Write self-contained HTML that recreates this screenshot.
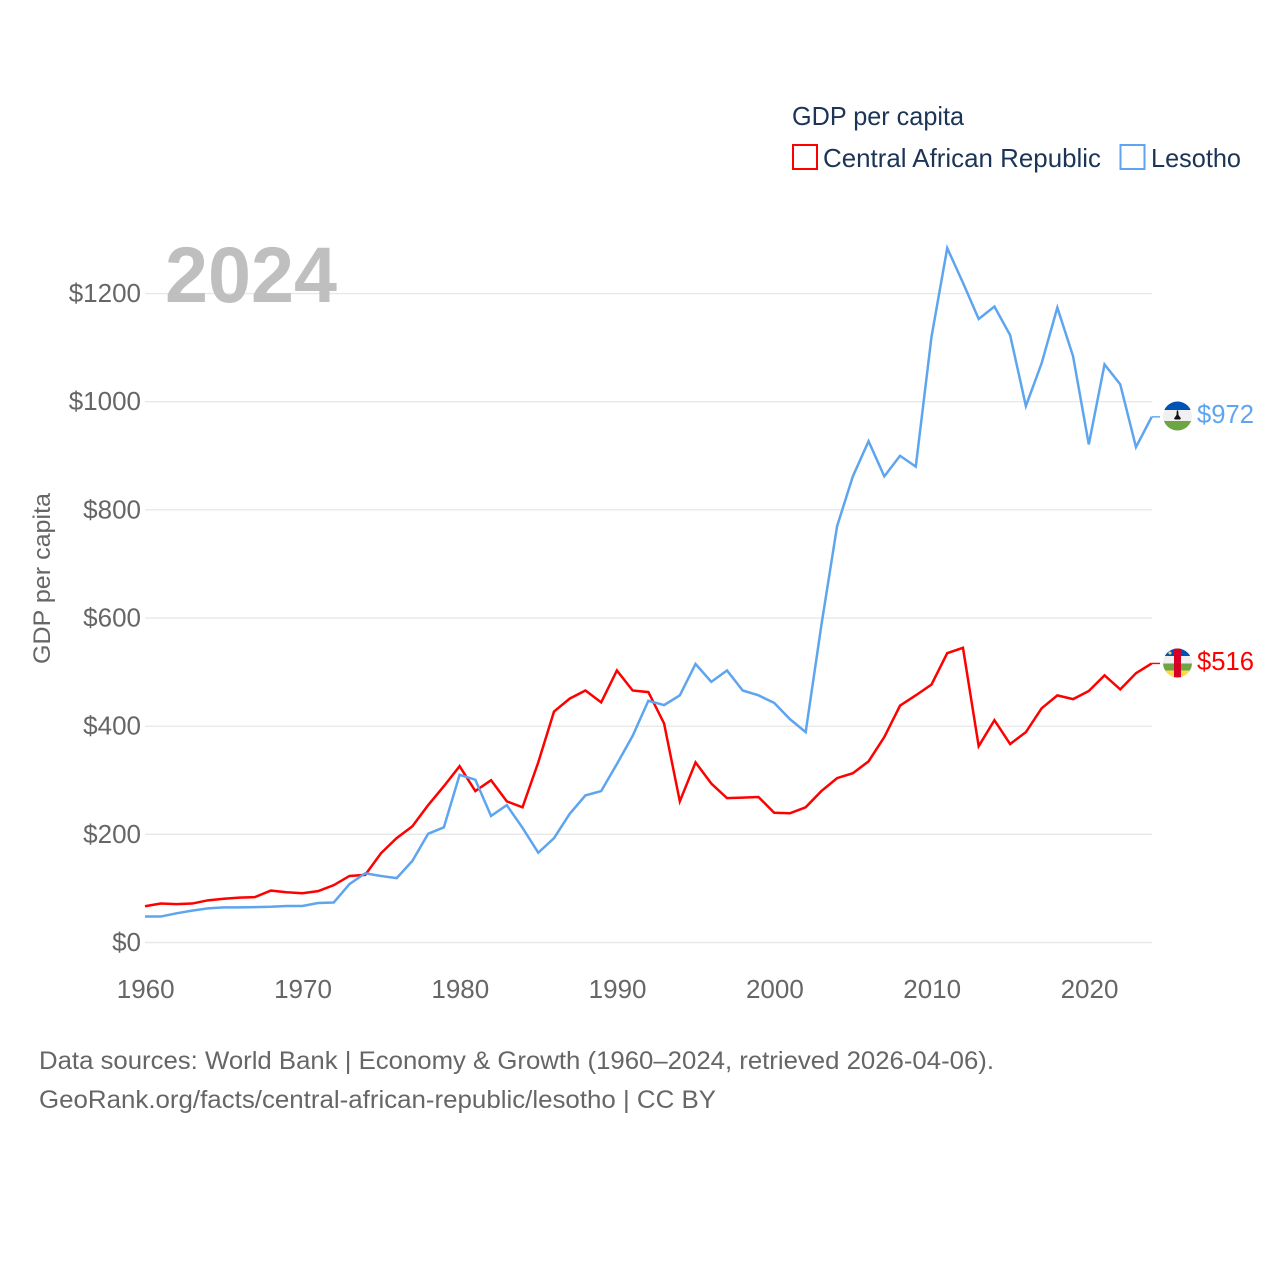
<!DOCTYPE html>
<html>
<head>
<meta charset="utf-8">
<style>
html,body{margin:0;padding:0;background:#fff;width:1280px;height:1280px;overflow:hidden}
svg{display:block;font-family:"Liberation Sans",sans-serif}
</style>
</head>
<body>
<svg id="chart" width="1280" height="1280" viewBox="0 0 1280 1280" xmlns="http://www.w3.org/2000/svg">
  <rect width="1280" height="1280" fill="#fff"/>
  <defs>
    <clipPath id="clip-ls"><circle cx="1177.5" cy="416" r="14.5"/></clipPath>
    <clipPath id="clip-cf"><circle cx="1177.5" cy="663" r="14.5"/></clipPath>
  </defs>
  <g id="grid"></g>
  <text x="165" y="302" font-size="79" font-weight="bold" fill="#bfbfbf" textLength="172" lengthAdjust="spacingAndGlyphs">2024</text>
  <g id="yticks"></g>
  <g id="xticks"></g>
  <text transform="translate(50,664) rotate(-90)" font-size="24.5" fill="#666" textLength="171" lengthAdjust="spacingAndGlyphs">GDP per capita</text>
  <g id="series"></g>

  <g>
    <text x="792" y="125" font-size="26" fill="#1c3557" textLength="172" lengthAdjust="spacingAndGlyphs">GDP per capita</text>
    <g>
      <rect x="793" y="145" width="24" height="24" fill="#fff" stroke="#ff0000" stroke-width="2"/>
      <text x="823" y="167" font-size="26" fill="#1c3557" textLength="278" lengthAdjust="spacingAndGlyphs">Central African Republic</text>
    </g>
    <g>
      <rect x="1120.5" y="145" width="24" height="24" fill="#fff" stroke="#5ea5ef" stroke-width="2"/>
      <text x="1151" y="167" font-size="26" fill="#1c3557" textLength="90" lengthAdjust="spacingAndGlyphs">Lesotho</text>
    </g>
  </g>

  <g clip-path="url(#clip-ls)">
    <rect x="1163" y="401" width="30" height="30" fill="#f0f0f0"/>
    <rect x="1163" y="401" width="30" height="9" fill="#0052b4"/>
    <rect x="1163" y="421" width="30" height="10" fill="#6da544"/>
    <path d="M1176.8 410.5 L1178.2 410.5 L1178.5 415 L1181 418.5 L1180 419.5 L1175 419.5 L1174 418.5 L1176.5 415 Z" fill="#111"/>
  </g>
  <text x="1197" y="423" font-size="26" fill="#5ea5ef" textLength="57" lengthAdjust="spacingAndGlyphs">$972</text>

  <g clip-path="url(#clip-cf)">
    <rect x="1163" y="648" width="30" height="8" fill="#0052b4"/>
    <rect x="1163" y="656" width="30" height="7.5" fill="#f0f0f0"/>
    <rect x="1163" y="663.5" width="30" height="7" fill="#6da544"/>
    <rect x="1163" y="670.5" width="30" height="8" fill="#ffda44"/>
    <rect x="1174" y="648" width="7" height="30" fill="#d80027"/>
    <circle cx="1170" cy="653" r="1.5" fill="#ffda44"/>
  </g>
  <text x="1197" y="670" font-size="26" fill="#ff0000" textLength="57" lengthAdjust="spacingAndGlyphs">$516</text>

  <text x="39" y="1069" font-size="25" fill="#666" textLength="955" lengthAdjust="spacingAndGlyphs">Data sources: World Bank | Economy &amp; Growth (1960–2024, retrieved 2026-04-06).</text>
  <text x="39" y="1108" font-size="25" fill="#666" textLength="677" lengthAdjust="spacingAndGlyphs">GeoRank.org/facts/central-african-republic/lesotho | CC BY</text>
</svg>
<script>
const startYear = 1960;
const xTickYears = [1960, 1970, 1980, 1990, 2000, 2010, 2020];
const yTickValues = [0, 200, 400, 600, 800, 1000, 1200];
const carValues = [67,72,71,72,78,81,83,84,96,93,91,95,106,123,125,165,193,215,254,289,326,280,300,261,250,333,427,451,466,444,503,466,463,405,261,333,294,267,268,269,240,239,250,280,304,313,335,380,438,457,477,535,545,363,411,367,389,433,457,450,465,494,468,498,516];
const lesothoValues = [48,48,54,59,63,65,65,65.5,66,67.5,67.5,73,74,108,128,123,119,151,201,213,310,301,234,254,212,166,193,238,272,280,330,382,447,439,457,515,482,503,466,457,443,413,389,587,770,862,927,862,900,880,1120,1284,1220,1153,1176,1123,992,1071,1174,1084,921,1069,1032,916,972];

const NS = 'http://www.w3.org/2000/svg';
function xScale(year) { return 145 + (year - 1960) * 15.73; }
function yScale(value) { return 942.5 - value * 0.5408; }
function make(tag, attrs, parent) {
  const el = document.createElementNS(NS, tag);
  for (const k in attrs) el.setAttribute(k, attrs[k]);
  parent.appendChild(el);
  return el;
}
const grid = document.getElementById('grid');
const yticks = document.getElementById('yticks');
const xticks = document.getElementById('xticks');
const series = document.getElementById('series');

yTickValues.forEach(function (v) {
  const line = make('line', {x1: 145, x2: 1152, y1: yScale(v), y2: yScale(v), stroke: '#e8e8e8', 'stroke-width': 1.4}, grid);
  
  
  const t = make('text', {x: 141, y: yScale(v) + 8.5, 'text-anchor': 'end', 'font-size': 26, fill: '#666'}, yticks);
  t.textContent = '$' + v;
  
  
});
xTickYears.forEach(function (y) {
  const t = make('text', {x: xScale(y) + 0.7, y: 998, 'text-anchor': 'middle', 'font-size': 26, fill: '#666'}, xticks);
  t.textContent = y;
  
  
});
function drawSeries(values, color, name) {
  const pts = values.map(function (v, i) { return xScale(startYear + i).toFixed(2) + ',' + yScale(v).toFixed(2); });
  const p = make('polyline', {points: pts.join(' '), fill: 'none', stroke: color, 'stroke-width': 2.5, 'stroke-linejoin': 'miter'}, series);
  
  
  const lastIndex = values.length - 1;
  const stub = make('line', {x1: xScale(startYear + lastIndex), x2: 1160, y1: yScale(values[lastIndex]), y2: yScale(values[lastIndex]), stroke: color, 'stroke-width': 1.4}, series);
  
  
}
drawSeries(carValues, '#ff0000', 'line-central-african-republic');
drawSeries(lesothoValues, '#5ea5ef', 'line-lesotho');
</script>
</body>
</html>
